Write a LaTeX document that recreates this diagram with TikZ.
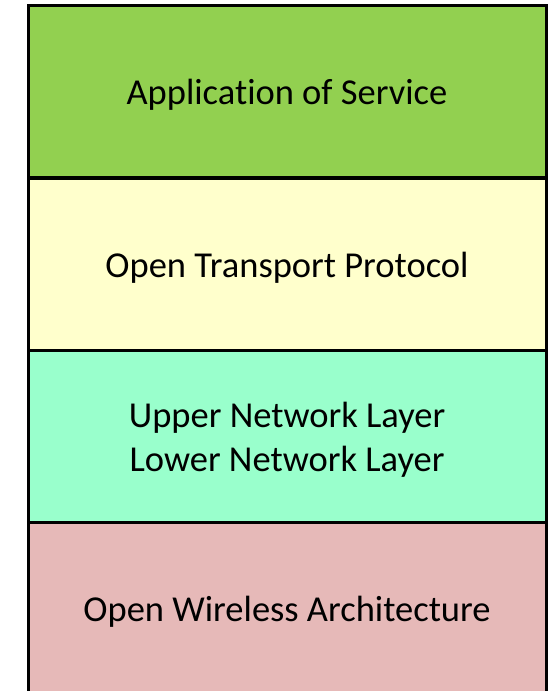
\documentclass[tikz,border=0pt]{standalone}
\usepackage{fontspec}
\setmainfont[Ligatures=NoCommon]{Carlito}
\definecolor{cgreen}{HTML}{92D050}
\definecolor{cyellow}{HTML}{FFFFCC}
\definecolor{caqua}{HTML}{99FFCC}
\definecolor{cpink}{HTML}{E6B9B8}
\begin{document}
\begin{tikzpicture}[x=1pt,y=-1pt,
  layer/.style={draw=black,line width=3pt,minimum width=518pt,minimum height=172.5pt,
    inner sep=0pt,outer sep=0pt,anchor=north west},
  txt/.style={align=center,inner sep=0pt,yshift=-4pt,
    font=\fontsize{36.5}{44}\selectfont}]
\useasboundingbox (0,0) rectangle (549,691);
\begin{scope}
\clip (0,0) rectangle (549,691);
\node[layer,fill=cpink] (owa) at (28,522) {};
\node[layer,fill=caqua] (net) at (28,350) {};
\node[layer,fill=cyellow] (otp) at (28,178) {};
\node[layer,fill=cgreen] (app) at (28,5) {};
\end{scope}
\node[txt] (owat) at (owa.center) {Open Wireless Architecture};
\node[txt] (nett) at (net.center) {Upper Network Layer\\Lower Network Layer};
\node[txt] (otpt) at (otp.center) {Open Transport Protocol};
\node[txt] (appt) at (app.center) {Application of Service};
\end{tikzpicture}
\end{document}
